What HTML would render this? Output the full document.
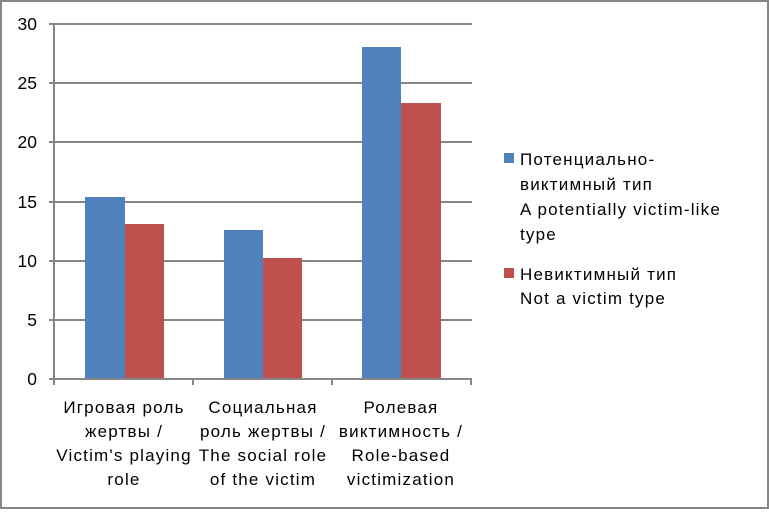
<!DOCTYPE html>
<html><head><meta charset="utf-8"><style>
body{margin:0;background:#fff}
svg text{font-family:"Liberation Sans","DejaVu Sans",sans-serif;fill:#000}
</style></head><body>
<svg width="769" height="509" viewBox="0 0 769 509">
<rect x="1" y="1" width="767" height="507" fill="#fff" stroke="#868686" stroke-width="2"/>
<g stroke="#868686" stroke-width="2">
<line x1="49" y1="24" x2="472" y2="24"/>
<line x1="49" y1="83" x2="472" y2="83"/>
<line x1="49" y1="142" x2="472" y2="142"/>
<line x1="49" y1="202" x2="472" y2="202"/>
<line x1="49" y1="261" x2="472" y2="261"/>
<line x1="49" y1="320" x2="472" y2="320"/>
</g>
<g fill="#4f81bd">
<rect x="85" y="197" width="40" height="182"/>
<rect x="224" y="230" width="39" height="149"/>
<rect x="362" y="47" width="39" height="332"/>
</g>
<g fill="#c0504d">
<rect x="125" y="224" width="39" height="155"/>
<rect x="263" y="258" width="39" height="121"/>
<rect x="401" y="103" width="40" height="276"/>
</g>
<g stroke="#868686" stroke-width="2">
<line x1="54" y1="24" x2="54" y2="385"/>
<line x1="49" y1="379" x2="472" y2="379"/>
<line x1="193" y1="379" x2="193" y2="385"/>
<line x1="332" y1="379" x2="332" y2="385"/>
<line x1="471" y1="379" x2="471" y2="385"/>
</g>
<g font-size="17.5" text-anchor="end">
<text x="37" y="30">30</text><text x="37" y="89">25</text><text x="37" y="148">20</text>
<text x="37" y="208">15</text><text x="37" y="267">10</text><text x="37" y="326">5</text><text x="37" y="385">0</text>
</g>
<g font-size="17" text-anchor="middle" letter-spacing="1.2">
<text x="124" y="413">Игровая роль</text><text x="124" y="437">жертвы /</text><text x="124" y="461">Victim's playing</text><text x="124" y="485">role</text>
<text x="263" y="413">Социальная</text><text x="263" y="437">роль жертвы /</text><text x="263" y="461">The social role</text><text x="263" y="485">of the victim</text>
<text x="401" y="413">Ролевая</text><text x="401" y="437">виктимность /</text><text x="401" y="461">Role-based</text><text x="401" y="485">victimization</text>
</g>
<rect x="504" y="153" width="10" height="10" fill="#4f81bd"/>
<rect x="504" y="268" width="10" height="10" fill="#c0504d"/>
<g font-size="17" letter-spacing="1.2">
<text x="520" y="165">Потенциально-</text><text x="520" y="190">виктимный тип</text><text x="520" y="215">A potentially victim-like</text><text x="520" y="240">type</text>
<text x="520" y="280">Невиктимный тип</text><text x="520" y="304">Not a victim type</text>
</g>
</svg>
</body></html>
